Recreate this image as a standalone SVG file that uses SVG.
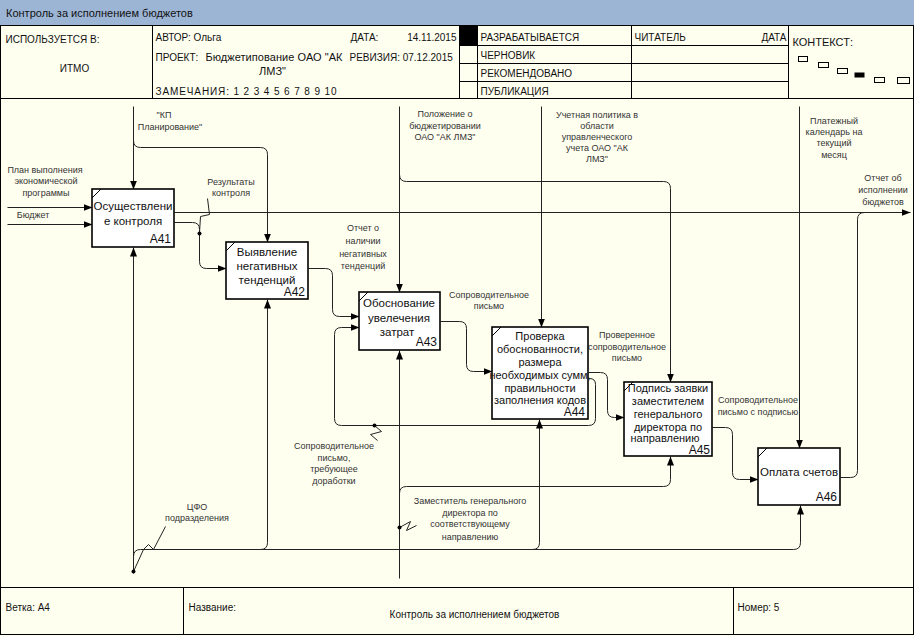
<svg xmlns="http://www.w3.org/2000/svg" width="914" height="636" viewBox="0 0 914 636">
<defs>
<marker id="ah" markerUnits="userSpaceOnUse" markerWidth="9" markerHeight="7" refX="9" refY="3.5" orient="auto"><path d="M0,0 L9,3.5 L0,7 z" fill="#000"/></marker>
<style>
text{font-family:"Liberation Sans",Arial,sans-serif;fill:#111}
.t{font-size:11px}
.h{font-size:10px}
.p{font-size:11px}
.f{font-size:10px}
.bt{font-size:11.5px;text-anchor:middle}
.bs{font-size:11px;text-anchor:middle}
.bn{font-size:12px;text-anchor:end}
.l{font-size:9px;text-anchor:middle;fill:#333}
.fr{fill:none;stroke:#000;stroke-width:1}
.box{fill:#fff;stroke:#000;stroke-width:1.6}
.tick{stroke:#000;stroke-width:1}
.c{fill:none;stroke:#222;stroke-width:1}
.a{marker-end:url(#ah)}
.dot{fill:#000}
</style>
</defs>
<rect x="0" y="0" width="914" height="636" fill="#FFFFF0"/>
<g id="titlebar">
<rect x="0" y="0" width="914" height="25" fill="#9DB5D5"/>
<text class="t" x="6" y="17">Контроль за исполнением бюджетов</text>
</g>
<g id="header" transform="translate(0.5,0.5)">
<rect class="fr" x="0" y="25" width="913" height="609"/>
<line class="fr" x1="0" y1="98" x2="913" y2="98"/>
<line class="fr" x1="152" y1="25" x2="152" y2="98"/>
<line class="fr" x1="459" y1="25" x2="459" y2="98"/>
<line class="fr" x1="477" y1="25" x2="477" y2="98"/>
<line class="fr" x1="631" y1="25" x2="631" y2="98"/>
<line class="fr" x1="788" y1="25" x2="788" y2="98"/>
<line class="fr" x1="459" y1="45" x2="788" y2="45"/>
<line class="fr" x1="459" y1="63" x2="788" y2="63"/>
<line class="fr" x1="459" y1="81" x2="788" y2="81"/>
<rect x="459" y="25" width="18" height="20" fill="#000"/>
<text class="h" x="5" y="42">ИСПОЛЬЗУЕТСЯ В:</text>
<text class="h" x="74" y="71" text-anchor="middle">ИТМО</text>
<text class="h" x="155" y="40">АВТОР: Ольга</text>
<text class="h" x="350" y="40">ДАТА:</text>
<text class="h" x="456" y="40" text-anchor="end">14.11.2015</text>
<text class="h" x="155" y="60">ПРОЕКТ:</text>
<text class="p" x="205" y="60" textLength="137" lengthAdjust="spacing">Бюджетипование ОАО "АК</text>
<text class="p" x="272" y="74" text-anchor="middle">ЛМЗ"</text>
<text class="h" x="349" y="60">РЕВИЗИЯ: 07.12.2015</text>
<text class="h" x="155" y="94" textLength="181" lengthAdjust="spacing">ЗАМЕЧАНИЯ: 1 2 3 4 5 6 7 8 9 10</text>
<text class="h" x="480" y="40">РАЗРАБАТЫВАЕТСЯ</text>
<text class="h" x="480" y="58">ЧЕРНОВИК</text>
<text class="h" x="480" y="76">РЕКОМЕНДОВАНО</text>
<text class="h" x="480" y="94">ПУБЛИКАЦИЯ</text>
<text class="h" x="634" y="40">ЧИТАТЕЛЬ</text>
<text class="h" x="786" y="40" text-anchor="end">ДАТА</text>
<text class="p" x="792" y="45">КОНТЕКСТ:</text>
<rect class="fr" x="798" y="56" width="9" height="5"/>
<rect class="fr" x="818" y="62" width="10" height="5"/>
<rect class="fr" x="837" y="68" width="10" height="5"/>
<rect x="854" y="72" width="10" height="5" fill="#000"/>
<rect class="fr" x="874" y="77" width="10" height="5"/>
<rect class="fr" x="897" y="77" width="12" height="6"/>
</g>
<g id="footer" transform="translate(0.5,0.5)">
<line class="fr" x1="0" y1="587" x2="913" y2="587"/>
<line class="fr" x1="183" y1="587" x2="183" y2="634"/>
<line class="fr" x1="733" y1="587" x2="733" y2="634"/>
<text class="f" x="5" y="610">Ветка: A4</text>
<text class="f" x="188" y="610">Название:</text>
<text class="f" x="474" y="617" text-anchor="middle">Контроль за исполнением бюджетов</text>
<text class="f" x="737" y="610">Номер: 5</text>
</g>
<g id="connectors" transform="translate(0.5,0.5)">
<path class="c a" d="M133,106 L133,189"/>
<path class="c a" d="M133,140 Q133,147 140,147 L260,147 Q267,147 267,154 L267,242"/>
<path class="c a" d="M7,207 L92,207"/>
<path class="c a" d="M7,224 L92,224"/>
<path class="c a" d="M174,212 L910,212"/>
<path class="c a" d="M174,222 L192,222 Q199,222 199,229 L199,261 Q199,268 206,268 L226,268"/>
<path class="c a" d="M308,268 L325,268 Q332,268 332,275 L332,309 Q332,316 339,316 L359,316"/>
<path class="c a" d="M440,321 L459,321 Q466,321 466,328 L466,364 Q466,371 473,371 L492,371"/>
<path class="c a" d="M588,372 L600,372 Q607,372 607,379 L607,410 Q607,417 614,417 L624,417"/>
<path class="c a" d="M588,378 L589,378 Q595,378 595,384 L595,418 Q595,425 588,425 L341,425 Q334,425 334,418 L334,334 Q334,327 341,327 L359,327"/>
<path class="c a" d="M712,427 L725,427 Q732,427 732,434 L732,472 Q732,479 739,479 L758,479"/>
<path class="c" d="M840,477 L850,477 Q857,477 857,470 L857,219 Q857,212 864,212"/>
<path class="c a" d="M399,106 L399,292"/>
<path class="c a" d="M399,174 Q399,181 406,181 L663,181 Q670,181 670,188 L670,382"/>
<path class="c a" d="M541,106 L541,327"/>
<path class="c a" d="M799,106 L799,448"/>
<path class="c a" d="M133,573 L133,247"/>
<path class="c a" d="M133,556 Q133,549 140,549 L793,549 Q800,549 800,542 L800,505"/>
<path class="c a" d="M260,549 Q267,549 267,542 L267,299"/>
<path class="c a" d="M532,549 Q539,549 539,542 L539,419"/>
<path class="c a" d="M399,578 L399,350"/>
<path class="c a" d="M399,493 Q399,486 406,486 L663,486 Q670,486 670,479 L670,456"/>
<path class="c" d="M207,198 L209,214 L200,216 L199,232"/>
<path class="c" d="M374,425 L381,431 L370,434 L377,440"/>
<path class="c" d="M165,526 L153,549 L148,544 L143,549 L133,571"/>
<path class="c" d="M399,527 L410,521 L406,530 L416,525"/>
<circle class="dot" cx="199" cy="233" r="2"/>
<circle class="dot" cx="374" cy="425" r="2"/>
<circle class="dot" cx="133" cy="571" r="2"/>
<circle class="dot" cx="399" cy="527" r="2"/>
</g>
<g id="labels">
<text class="l" x="164" y="118">"КП</text>
<text class="l" x="170" y="130">Планирование"</text>
<text class="l" x="45" y="173">План выполнения</text>
<text class="l" x="46" y="184">экономической</text>
<text class="l" x="46" y="196">программы</text>
<text class="l" x="33" y="218">Бюджет</text>
<text class="l" x="231" y="185">Результаты</text>
<text class="l" x="231" y="196">контроля</text>
<text class="l" x="363" y="231">Отчет о</text>
<text class="l" x="363" y="244">наличии</text>
<text class="l" x="363" y="257">негативных</text>
<text class="l" x="363" y="269">тенденций</text>
<text class="l" x="445" y="117">Положение о</text>
<text class="l" x="445" y="129">бюджетировании</text>
<text class="l" x="445" y="140">ОАО "АК ЛМЗ"</text>
<text class="l" x="597" y="118">Учетная политика в</text>
<text class="l" x="597" y="129">области</text>
<text class="l" x="597" y="140">управленческого</text>
<text class="l" x="597" y="151">учета ОАО "АК</text>
<text class="l" x="597" y="162">ЛМЗ"</text>
<text class="l" x="834" y="124">Платежный</text>
<text class="l" x="834" y="135">календарь на</text>
<text class="l" x="834" y="146">текущий</text>
<text class="l" x="834" y="158">месяц</text>
<text class="l" x="883" y="181">Отчет об</text>
<text class="l" x="883" y="193">исполнении</text>
<text class="l" x="883" y="205">бюджетов</text>
<text class="l" x="489" y="298">Сопроводительное</text>
<text class="l" x="489" y="309">письмо</text>
<text class="l" x="627" y="338">Проверенное</text>
<text class="l" x="627" y="350">сопроводительное</text>
<text class="l" x="627" y="361">письмо</text>
<text class="l" x="758" y="403">Сопроводительное</text>
<text class="l" x="758" y="415">письмо с подписью</text>
<text class="l" x="334" y="449">Сопроводительное</text>
<text class="l" x="334" y="461">письмо,</text>
<text class="l" x="334" y="472">требующее</text>
<text class="l" x="334" y="484">доработки</text>
<text class="l" x="197" y="510">ЦФО</text>
<text class="l" x="197" y="521">подразделения</text>
<text class="l" x="470" y="504">Заместитель генерального</text>
<text class="l" x="470" y="516">директора по</text>
<text class="l" x="470" y="527">соответствующему</text>
<text class="l" x="470" y="540">направлению</text>
</g>
<g id="A41">
<rect class="box" x="92" y="189" width="82" height="58"/>
<line class="tick" x1="92" y1="198" x2="101" y2="189"/>
<text class="bt" x="133" y="210">Осуществлени</text>
<text class="bt" x="133" y="225">е контроля</text>
<text class="bn" x="171" y="243">A41</text>
</g>
<g id="A42">
<rect class="box" x="226" y="242" width="82" height="57"/>
<line class="tick" x1="226" y1="251" x2="235" y2="242"/>
<text class="bt" x="267" y="256">Выявление</text>
<text class="bt" x="267" y="270">негативных</text>
<text class="bt" x="267" y="284">тенденций</text>
<text class="bn" x="305" y="296">A42</text>
</g>
<g id="A43">
<rect class="box" x="359" y="292" width="81" height="58"/>
<line class="tick" x1="359" y1="301" x2="368" y2="292"/>
<text class="bt" x="399" y="307">Обоснование</text>
<text class="bt" x="399" y="322">увелечения</text>
<text class="bt" x="397" y="336">затрат</text>
<text class="bn" x="437" y="346">A43</text>
</g>
<g id="A44">
<rect class="box" x="492" y="327" width="96" height="92"/>
<line class="tick" x1="492" y1="336" x2="501" y2="327"/>
<text class="bs" x="540" y="340">Проверка</text>
<text class="bs" x="540" y="353">обоснованности,</text>
<text class="bs" x="540" y="366">размера</text>
<text class="bs" x="540" y="379">необходимых сумм,</text>
<text class="bs" x="540" y="392">правильности</text>
<text class="bs" x="540" y="404">заполнения кодов</text>
<text class="bn" x="585" y="416">A44</text>
</g>
<g id="A45">
<rect class="box" x="624" y="382" width="88" height="74"/>
<line class="tick" x1="624" y1="391" x2="633" y2="382"/>
<text class="bs" x="668" y="392">Подпись заявки</text>
<text class="bs" x="668" y="405">заместителем</text>
<text class="bs" x="668" y="418">генерального</text>
<text class="bs" x="668" y="431">директора по</text>
<text class="bs" x="665" y="442">направлению</text>
<text class="bn" x="710" y="454">A45</text>
</g>
<g id="A46">
<rect class="box" x="758" y="448" width="82" height="57"/>
<line class="tick" x1="758" y1="457" x2="767" y2="448"/>
<text class="bt" x="799" y="476">Оплата счетов</text>
<text class="bn" x="837" y="501">A46</text>
</g>
</svg>
